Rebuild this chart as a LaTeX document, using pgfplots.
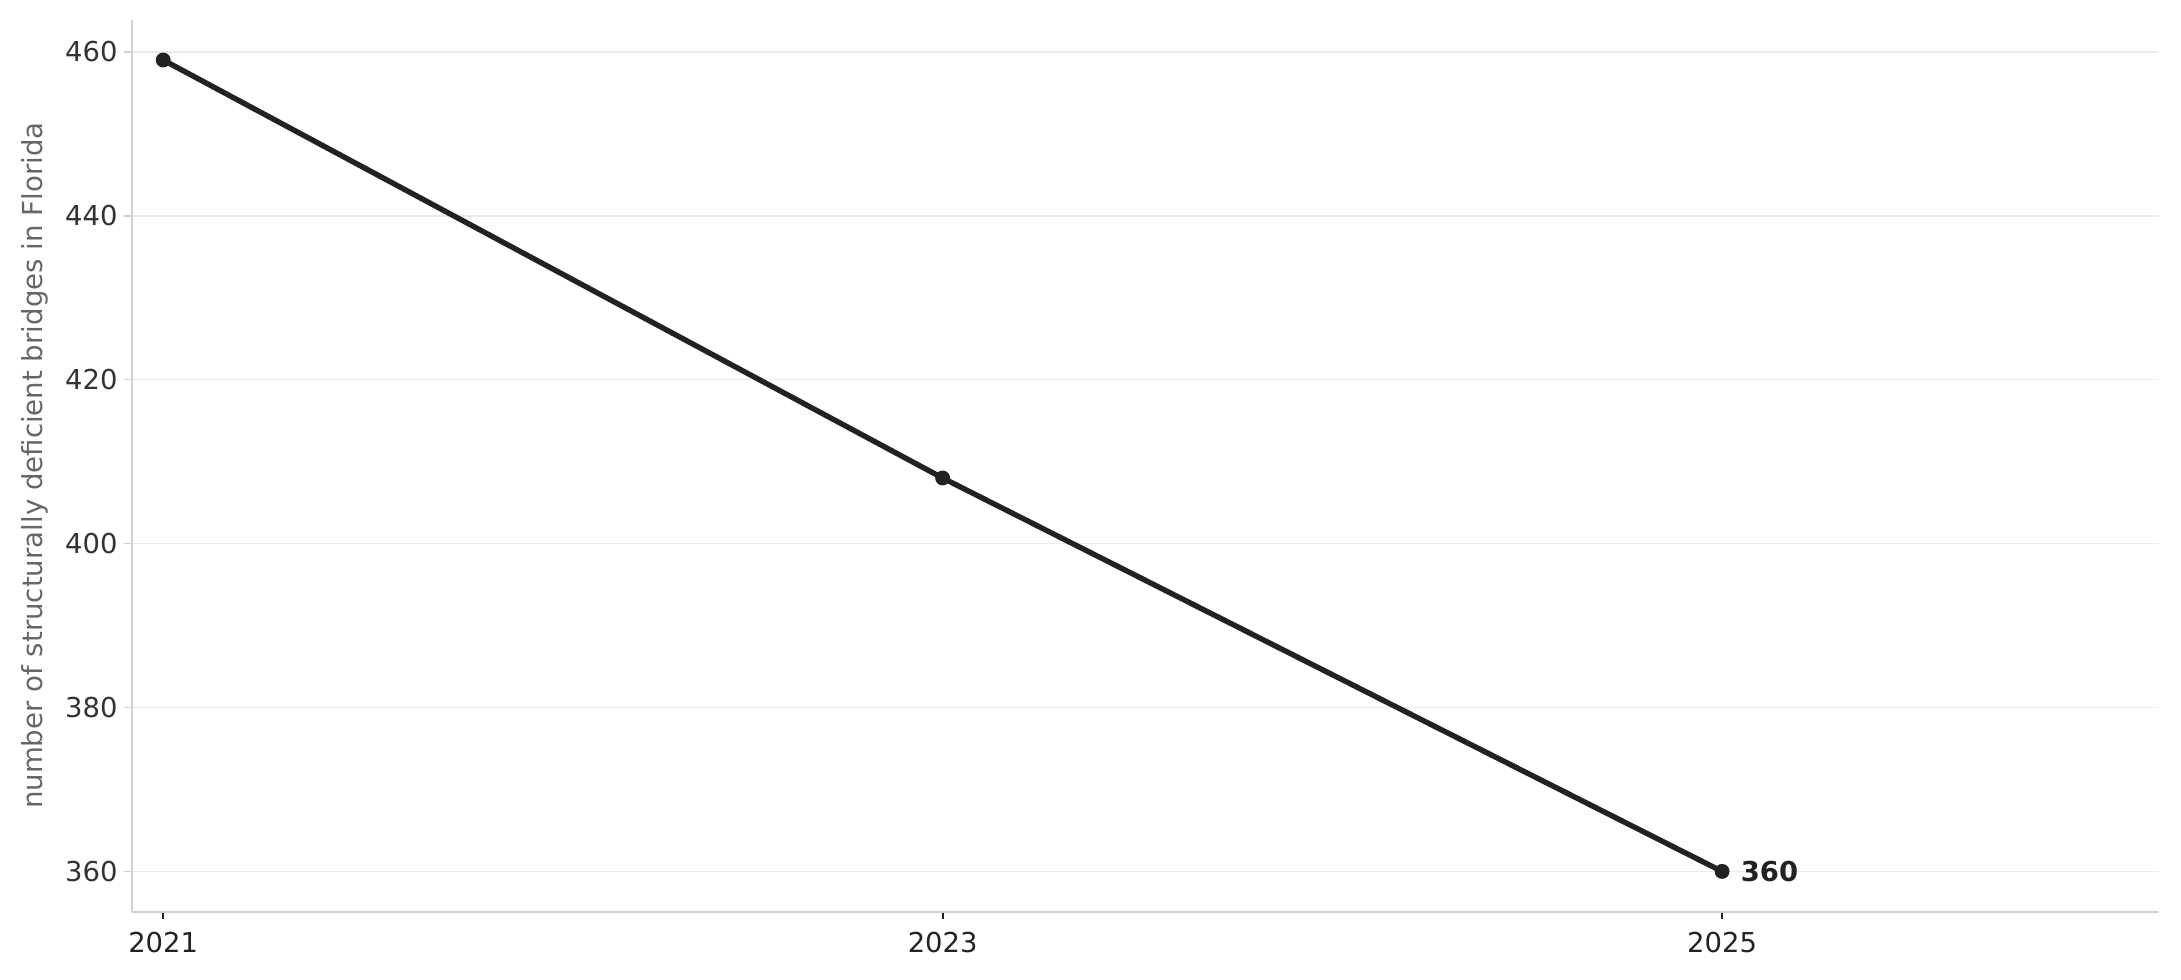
\documentclass[border=0pt]{standalone}
\usepackage{pgfplots}
\pgfplotsset{compat=1.18}
\usepackage{fontspec}
\setmainfont{DejaVu Sans}
\definecolor{linec}{HTML}{222222}
\definecolor{gridc}{HTML}{EBEBEB}
\definecolor{spinec}{HTML}{D0D0D0}
\definecolor{tickc}{HTML}{333333}
\definecolor{labc}{HTML}{666666}
\begin{document}
\begin{tikzpicture}
\begin{axis}[
  name=main, at={(0,0)}, anchor=south west,
  width=1050pt, height=462pt, scale only axis,
  xmin=2020.92, xmax=2026.12, ymin=355.1, ymax=463.9,
  xtick={2021,2023,2025}, ytick={360,380,...,460},
  /pgf/number format/1000 sep={},
  /pgf/number format/assume math mode=true,
  axis x line*=bottom, axis y line*=left,
  axis line style={spinec, line width=1pt},
  ymajorgrids, grid style={gridc, line width=0.8pt},
  tick align=outside, major tick length=4pt,
  x tick style={linec, line width=1pt},
  y tick style={spinec, line width=0.8pt},
  ticklabel style={font=\fontsize{14.2}{17}\selectfont, text=tickc},
  x tick label style={text=linec, yshift=-3pt},
  ylabel={number of structurally deficient bridges in Florida},
  ylabel style={font=\fontsize{14.3}{17}\selectfont, text=labc, yshift=2pt},
  clip=false,
]
\addplot[linec, line width=2.8pt, mark=*, mark size=3.6pt, mark options={fill=linec, draw=linec, line width=0.5pt}]
  coordinates {(2021,459) (2023,408) (2025,360)}
  node[pos=1, anchor=west, xshift=5pt, text=linec, font=\fontsize{14.2}{17}\selectfont\bfseries]{360};
\end{axis}
\pgfresetboundingbox
\useasboundingbox (-68.4pt,-35.3pt) rectangle (1061.6pt,472.3pt);
\end{tikzpicture}
\end{document}
